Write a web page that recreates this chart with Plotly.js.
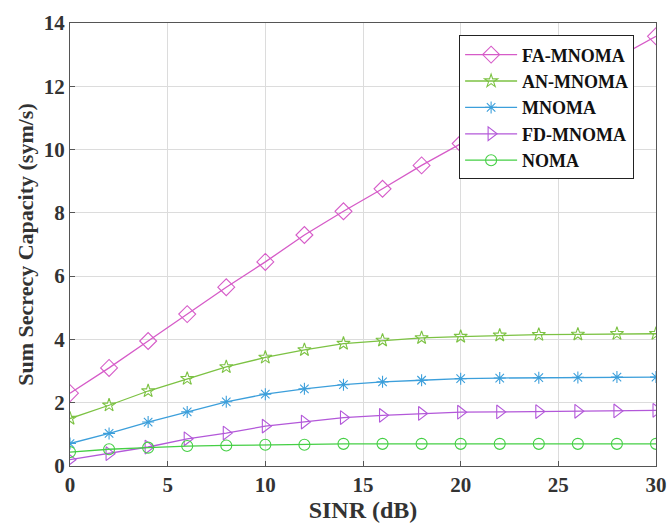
<!DOCTYPE html>
<html><head><meta charset="utf-8">
<script src="https://cdn.plot.ly/plotly-3.0.1.min.js"></script>
<style>body{margin:0;background:#fff}#c{width:668px;height:524px}</style>
</head><body><div id="c"></div>
<script>
const sinr = [0,2,4,6,8,10,12,14,16,18,20,22,24,26,28,30];
const faMnoma = [2.3,3.1,3.95,4.8,5.65,6.45,7.3,8.05,8.76,9.5,10.19,10.87,11.55,12.22,12.9,13.58];
const anMnoma = [1.5,1.92,2.37,2.76,3.13,3.43,3.67,3.87,3.97,4.05,4.09,4.13,4.15,4.16,4.18,4.18];
const mnoma = [0.71,1.03,1.39,1.71,2.03,2.27,2.44,2.57,2.66,2.71,2.76,2.78,2.79,2.8,2.81,2.81];
const fdMnoma = [0.2,0.39,0.6,0.86,1.04,1.26,1.39,1.53,1.6,1.66,1.7,1.71,1.72,1.73,1.74,1.76];
const noma = [0.44,0.53,0.58,0.63,0.65,0.67,0.67,0.7,0.7,0.7,0.7,0.7,0.7,0.7,0.7,0.7];
const names = ['FA-MNOMA','AN-MNOMA','MNOMA','FD-MNOMA','NOMA'];

function tr(y, name, color, symbol, size){
  return {x: sinr, y: y, name: name, type:'scatter', mode:'lines+markers',
    line:{color:color, width:1.3},
    marker:{symbol:symbol, size:size, color:color, line:{color:color, width:1.1}}};
}
const data = [
  tr(faMnoma, names[0], '#D65BC8', 'diamond-open', 13),
  tr(anMnoma, names[1], '#7CC243', 'star-open', 10),
  tr(mnoma, names[2], '#3C9FDB', 'asterisk-open', 10),
  tr(fdMnoma, names[3], '#B358D9', 'triangle-right-open', 12),
  tr(noma, names[4], '#45CF45', 'circle-open', 11)
];
const serif = 'Liberation Serif, Times New Roman, serif';
const layout = {
  width:668, height:524,
  margin:{l:70, r:12, t:23, b:58},
  paper_bgcolor:'#fff', plot_bgcolor:'#fff',
  font:{family:serif, color:'#333', size:21, weight:'bold'},
  showlegend:true,
  legend:{x:0.664, y:0.972, xanchor:'left', yanchor:'top', bgcolor:'#fff', bordercolor:'#222', borderwidth:1,
    font:{family:serif, size:18, color:'#111', weight:'bold'}, tracegroupgap:0, itemwidth:52},
  xaxis:{range:[0,30], dtick:5, showgrid:true, gridcolor:'#dcdcdc', zeroline:false,
    showline:true, linecolor:'#555', mirror:true, ticks:'inside', ticklen:5, tickcolor:'#555',
    tickfont:{family:serif, size:21, color:'#333', weight:'bold'},
    title:{text:'SINR (dB)', font:{family:serif, size:24, color:'#333', weight:'bold'}, standoff:0}},
  yaxis:{range:[0,14], dtick:2, showgrid:true, gridcolor:'#dcdcdc', zeroline:false,
    showline:true, linecolor:'#555', mirror:true, ticks:'inside', ticklen:5, tickcolor:'#555',
    tickfont:{family:serif, size:21, color:'#333', weight:'bold'},
    title:{text:'Sum Secrecy Capacity (sym/s)', font:{family:serif, size:22, color:'#333', weight:'bold'}, standoff:4}}
};
Plotly.newPlot('c', data, layout, {displayModeBar:false, staticPlot:true});
</script></body></html>
